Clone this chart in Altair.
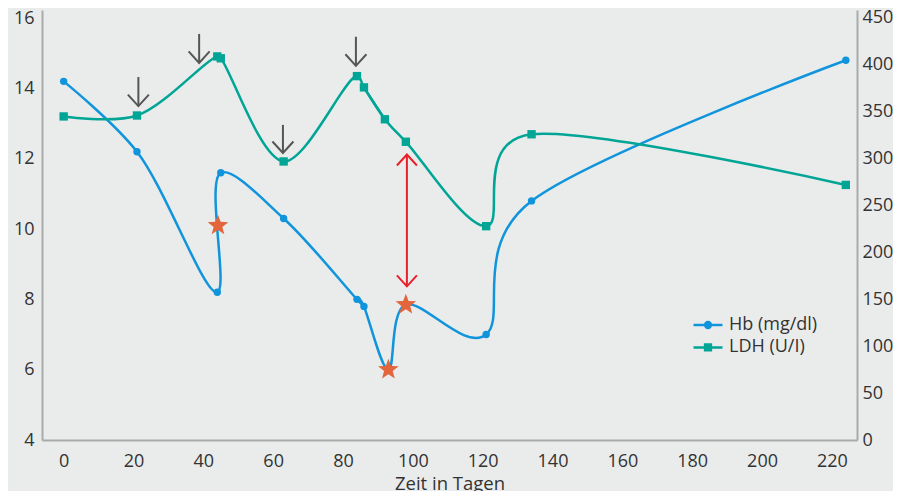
import altair as alt
import pandas as pd

# ---------------- data ----------------
hb_days = [0, 21, 44, 45, 63, 84, 86, 93, 98, 121, 134, 224]
hb_values = [14.2, 12.2, 8.2, 11.6, 10.3, 8.0, 7.8, 6.0, 7.85, 7.0, 10.8, 14.8]

ldh_days = [0, 21, 44, 45, 63, 84, 86, 92, 98, 121, 134, 224]
ldh_values = [345, 346, 409, 407, 297, 388, 376, 342, 318, 228, 326, 272]

star_days = [44.2, 93, 98]
star_hb = [10.1, 6.0, 7.85]

arrow_days = [21.4, 38.8, 62.8, 83.7]
arrow_top_ldh = [387, 433, 336, 430]
arrow_tip_ldh = [356, 402, 306, 399]

red_arrow_day = [98.3]
red_arrow_low_hb = [8.37]
red_arrow_high_hb = [12.12]

series_names = ["Hb (mg/dl)", "LDH (U/I)"]
x_ticks = [0, 20, 40, 60, 80, 100, 120, 140, 160, 180, 200, 220]
hb_ticks = [4, 6, 8, 10, 12, 14, 16]
ldh_ticks = [0, 50, 100, 150, 200, 250, 300, 350, 400, 450]

# ---------------- styles ----------------
HB = "#1094db"
LDH = "#00a596"
STAR = "#e2653b"
RED = "#e91f2b"
GREY = "#555555"
BG = "#eaecec"
AXIS = "#a9abab"
TEXT = "#333333"
FONT = "Open Sans"

STAR_PATH = ("M0,-1L0.2469,-0.3398L0.9511,-0.309L0.3995,0.1298L0.5878,0.809"
             "L0,0.42L-0.5878,0.809L-0.3995,0.1298L-0.9511,-0.309L-0.2469,-0.3398Z")
DOWN_HEAD = "M-1,-1.1L0,0L1,-1.1"
UP_HEAD = "M-1,1.1L0,0L1,1.1"
HB_SYM = "M-1.5,0L1.5,0M0.3,0A0.3,0.3,0,1,1,-0.3,0A0.3,0.3,0,1,1,0.3,0Z"
LDH_SYM = "M-1.5,0L1.5,0M-0.3,-0.3L0.3,-0.3L0.3,0.3L-0.3,0.3Z"

# smoothing: the early part (with closely spaced points) uses a centripetal
# spline (no self-loops); the later part a uniform one. The two parts overlap
# on one short, almost straight segment.
HB_A_END, HB_B_START = 86, 84
LDH_A_END, LDH_B_START = 92, 86

hb_df = pd.DataFrame({"day": hb_days, "hb": hb_values})
ldh_df = pd.DataFrame({"day": ldh_days, "ldh": ldh_values})
star_df = pd.DataFrame({"day": star_days, "hb": star_hb})
arrow_df = pd.DataFrame({"day": arrow_days, "top": arrow_top_ldh, "tip": arrow_tip_ldh})
red_df = pd.DataFrame({"day": red_arrow_day, "lo": red_arrow_low_hb, "hi": red_arrow_high_hb})
legend_df = pd.DataFrame({"series": series_names})

x_enc = alt.X("day:Q",
              scale=alt.Scale(domain=[-6.2, 227.2], nice=False, zero=False),
              axis=alt.Axis(values=x_ticks, title="Zeit in Tagen", labelPadding=12,
                            titlePadding=4))

hb_scale = alt.Scale(domain=[4, 16.23], nice=False, zero=False)
hb_axis = alt.Axis(orient="left", values=hb_ticks, title=None, labelPadding=8)
ldh_scale = alt.Scale(domain=[0, 458.5], nice=False, zero=False)
ldh_axis = alt.Axis(orient="right", values=ldh_ticks, title=None, labelPadding=5)


def hb_y(field):
    return alt.Y(f"{field}:Q", scale=hb_scale, axis=hb_axis)


def ldh_y(field):
    return alt.Y(f"{field}:Q", scale=ldh_scale, axis=ldh_axis)


# ---------------- Hb group (left axis) ----------------
hb_line_a = alt.Chart(hb_df).transform_filter(alt.datum.day <= HB_A_END).mark_line(
    interpolate="catmull-rom", color=HB, strokeWidth=2.5).encode(x=x_enc, y=hb_y("hb"))
hb_line_b = alt.Chart(hb_df).transform_filter(alt.datum.day >= HB_B_START).mark_line(
    interpolate="cardinal", color=HB, strokeWidth=2.5).encode(x=x_enc, y=hb_y("hb"))
hb_pts = alt.Chart(hb_df).mark_point(shape="circle", filled=True, color=HB, size=55, opacity=1).encode(
    x=x_enc, y=hb_y("hb"))
stars = alt.Chart(star_df).mark_point(shape=STAR_PATH, filled=True, color=STAR, size=470,
                                      opacity=1, strokeWidth=0).encode(x=x_enc, y=hb_y("hb"))
red_shaft = alt.Chart(red_df).mark_rule(color=RED, strokeWidth=2).encode(
    x=x_enc, y=hb_y("lo"), y2="hi:Q")
red_top = alt.Chart(red_df).mark_point(shape=UP_HEAD, filled=False, color=RED, size=400,
                                       strokeWidth=2, opacity=1).encode(x=x_enc, y=hb_y("hi"))
red_bot = alt.Chart(red_df).mark_point(shape=DOWN_HEAD, filled=False, color=RED, size=400,
                                       strokeWidth=2, opacity=1).encode(x=x_enc, y=hb_y("lo"))

legend_layer = alt.Chart(legend_df).transform_filter("false").mark_point(
    filled=True, opacity=1, strokeWidth=2.5).encode(
    fill=alt.Fill("series:N", scale=alt.Scale(domain=series_names, range=[HB, LDH]),
                  legend=alt.Legend(title=None)),
    stroke=alt.Stroke("series:N", scale=alt.Scale(domain=series_names, range=[HB, LDH]),
                      legend=alt.Legend(title=None)),
    shape=alt.Shape("series:N", scale=alt.Scale(domain=series_names, range=[HB_SYM, LDH_SYM]),
                    legend=alt.Legend(title=None)),
)

hb_group = alt.layer(hb_line_a, hb_line_b, hb_pts, red_shaft, red_top, red_bot, stars, legend_layer)

# ---------------- LDH group (right axis) ----------------
ldh_line_a = alt.Chart(ldh_df).transform_filter(alt.datum.day <= LDH_A_END).mark_line(
    interpolate="catmull-rom", color=LDH, strokeWidth=2.5).encode(x=x_enc, y=ldh_y("ldh"))
ldh_line_b = alt.Chart(ldh_df).transform_filter(alt.datum.day >= LDH_B_START).mark_line(
    interpolate="cardinal", color=LDH, strokeWidth=2.5).encode(x=x_enc, y=ldh_y("ldh"))
ldh_pts = alt.Chart(ldh_df).mark_point(shape="square", filled=True, color=LDH, size=70, opacity=1).encode(
    x=x_enc, y=ldh_y("ldh"))
grey_shaft = alt.Chart(arrow_df).mark_rule(color=GREY, strokeWidth=2).encode(
    x=x_enc, y=ldh_y("top"), y2="tip:Q")
grey_head = alt.Chart(arrow_df).mark_point(shape=DOWN_HEAD, filled=False, color=GREY, size=441,
                                           strokeWidth=2, opacity=1).encode(x=x_enc, y=ldh_y("tip"))

ldh_group = alt.layer(ldh_line_a, ldh_line_b, ldh_pts, grey_shaft, grey_head)

chart = alt.layer(hb_group, ldh_group).resolve_scale(y="independent").properties(
    width=815, height=430,
    padding={"left": 34, "top": 2, "right": 36, "bottom": 51},
    autosize=alt.AutoSizeParams(type="none"),
    background=BG,
).configure_view(stroke=None).configure_axis(
    labelFont=FONT, labelFontSize=18, labelColor=TEXT,
    titleFont=FONT, titleFontSize=18.5, titleColor=TEXT, titleFontWeight="normal",
    domainColor=AXIS, domainWidth=2, ticks=False, tickSize=0, grid=False,
).configure_legend(
    orient="none", legendX=655, legendY=304, padding=0,
    labelFont=FONT, labelFontSize=18, labelColor=TEXT, labelOffset=10,
    symbolSize=373, symbolStrokeWidth=2.5, rowPadding=2.4,
)

chart.save("out.html", embed_options={"renderer": "svg", "actions": False})
